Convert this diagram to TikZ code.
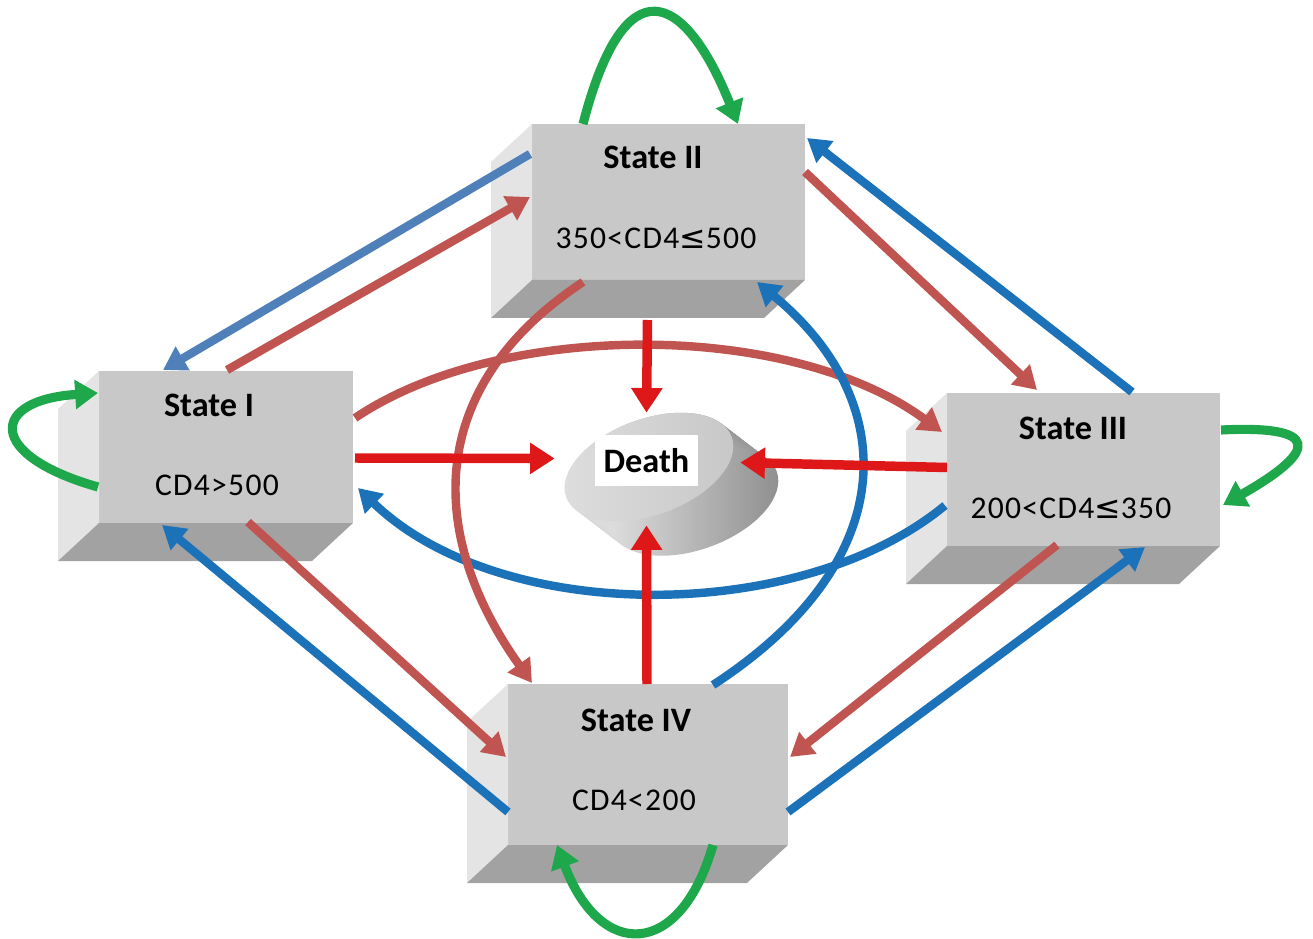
\documentclass[tikz,border=0pt]{standalone}
\usepackage{fontspec}
\setmainfont{Carlito}
\newfontfamily\symfont{DejaVu Sans}
\usetikzlibrary{arrows.meta,calc}

\definecolor{boxfront}{RGB}{200,200,200}
\definecolor{boxside}{RGB}{228,228,228}
\definecolor{boxbase}{RGB}{162,162,162}
\definecolor{deathred}{RGB}{222,24,24}
\definecolor{rust}{RGB}{192,84,80}
\definecolor{flowblue}{RGB}{28,114,184}
\definecolor{greyblue}{RGB}{80,128,185}
\definecolor{loopgreen}{RGB}{30,168,75}

\newcommand\pxu{0.02cm}

\begin{document}
\begin{tikzpicture}[x=\pxu, y=-\pxu,
  state/.style={fill=boxfront, inner sep=0, outer sep=0},
  statename/.style={font=\bfseries\fontsize{19.5}{22}\selectfont},
  cdband/.style={font=\fontsize{18}{22}\selectfont\addfontfeatures{LetterSpace=4}},
  link/.style={line width=4.8pt, -{Triangle[length=13pt,width=15pt]}},
  fatal/.style={line width=5.4pt, deathred, -{Triangle[length=14pt,width=17pt]}},
  stay/.style={line width=5.2pt, loopgreen, -{Triangle[length=13pt,width=16pt]}}]

  \useasboundingbox (0,0) rectangle (1313,939);

  % The four CD4 states, drawn as bevelled boxes

  \node [state, minimum width=254*\pxu, minimum height=152*\pxu] (s1) at (226,447) {};
  \node [state, minimum width=273*\pxu, minimum height=156*\pxu] (s2) at (668.5,202) {};
  \node [state, minimum width=273*\pxu, minimum height=153*\pxu] (s3) at (1083.5,469.5) {};
  \node [state, minimum width=280*\pxu, minimum height=161*\pxu] (s4) at (648,764.5) {};

  \foreach \s in {s1,s2,s3,s4} {
    \fill [boxside] (\s.north west) -- ++(-41,38)
      -- ($(\s.south west)+(-41,38)$) -- (\s.south west) -- cycle;
    \fill [boxbase] (\s.south west) -- ++(-41,38)
      -- ($(\s.south east)+(-41,38)$) -- (\s.south east) -- cycle;
  }

  \node [statename] (t1) at (209,405) {State I};
  \node [cdband] (r1) at (217,485) {CD4>500};
  \node [statename] (t2) at (653,157) {State II};
  \node [cdband] (r2) at (656,238) {350<CD4{\symfont≤}500};
  \node [statename] (t3) at (1073,428) {State III};
  \node [cdband] (r3) at (1071,508) {200<CD4{\symfont≤}350};
  \node [statename] (t4) at (636,720) {State IV};
  \node [cdband] (r4) at (634,800) {CD4<200};

  % Absorbing state: a small tilted cylinder

  \foreach \k in {0,...,15}
    \shade [left color=black!12, right color=black!45]
      ($(649,467)+(3*\k,2.3*\k)$) ellipse [x radius=88, y radius=48, rotate=20];
  \shade [left color=black!13, right color=black!22]
    (649,467) ellipse [x radius=88, y radius=48, rotate=20];
  \node [fill=white, inner sep=0, font=\bfseries\fontsize{19.5}{22}\selectfont,
    minimum width=103*\pxu, minimum height=51*\pxu] (death) at (646.5,460.5) {Death};

  % Staying in the same state

  \draw [stay] ($(s2.north west)+(51,0)$) .. controls (625,-38) and (685,-8)
    .. ($(s2.north west)+(206,0)$);
  \draw [stay] ($(s1.south west)+(-1,-36)$) .. controls (-15,455) and (-10,400)
    .. ($(s1.north west)+(-1,22)$);
  \draw [stay] ($(s3.north east)+(1,37)$) .. controls (1320,425) and (1320,450)
    .. ($(s3.north east)+(3,112)$);
  \draw [stay] ($(s4.south west)+(205,0)$) .. controls (680,960) and (600,960)
    .. ($(s4.south west)+(49,0)$);

  % Moves between neighbouring states

  \draw [link, greyblue] ($(s2.north west)+(-2,30)$) -- ($(s1.north west)+(64,-1)$);
  \draw [link, rust] ($(s1.north west)+(128,-1)$) -- ($(s2.north west)+(-2,73)$);
  \draw [link, rust] ($(s2.north east)+(0,48)$) -- ($(s3.north west)+(90,-3)$);
  \draw [link, flowblue] ($(s3.north west)+(185,-1)$) -- ($(s2.north east)+(2,14)$);
  \draw [link, rust] ($(s1.south west)+(149,-1)$) -- ($(s4.north west)+(-2,73)$);
  \draw [link, flowblue] ($(s4.south west)+(0,-33)$) -- ($(s1.south west)+(63,2)$);
  \draw [link, rust] ($(s3.south west)+(110,-1)$) -- ($(s4.north east)+(2,73)$);
  \draw [link, flowblue] ($(s4.south east)+(0,-33)$) -- ($(s3.south west)+(198,1)$);

  % Moves across the middle

  \draw [link, rust] ($(s1.north east)+(2,47)$) .. controls (500,320) and (790,320)
    .. ($(s3.north west)+(-5,39)$);
  \draw [link, flowblue] ($(s3.west)+(-2,36)$) .. controls (800,625) and (500,625)
    .. ($(s1.east)+(5,41)$);
  \draw [link, rust] ($(s2.south west)+(51,2)$) .. controls (420,390) and (430,540)
    .. ($(s4.north west)+(24,-1)$);
  \draw [link, flowblue] ($(s4.north west)+(205,1)$) .. controls (905,560) and (900,400)
    .. ($(s2.south east)+(-48,2)$);

  % Death from every state

  \draw [fatal] ($(s1.east)+(2,11)$) -- ($(death.west)+(-40,-2)$);
  \draw [fatal] ($(s2.south)+(-21,40)$) -- ($(death.north)+(0,-22)$);
  \draw [fatal] ($(s3.west)+(0,-2)$) -- ($(death.east)+(42,2)$);
  \draw [fatal] ($(s4.north)+(-1,0)$) -- ($(death.south)+(0,39)$);
\end{tikzpicture}
\end{document}
